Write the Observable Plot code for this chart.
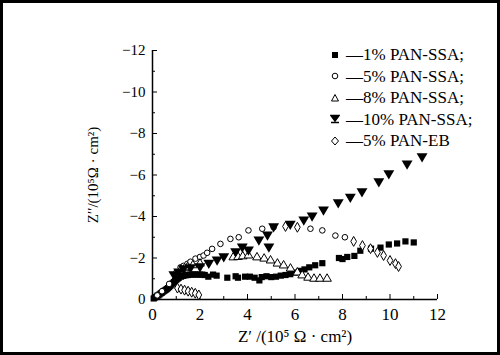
<!DOCTYPE html>
<html>
<head>
<meta charset="utf-8">
<script src="https://cdn.jsdelivr.net/npm/d3@7"></script>
<script src="https://cdn.jsdelivr.net/npm/@observablehq/plot@0.6"></script>
<style>
  html, body { margin: 0; padding: 0; background: #fff; }
  #wrap { position: relative; width: 500px; height: 355px; box-sizing: border-box; border: 3px solid #000; background: #fff; overflow: hidden; }
  #legend { position: absolute; left: 327px; top: 41px; font-family: "Liberation Serif", "Times New Roman", Tinos, "DejaVu Serif", serif; font-size: 17px; color: #000; line-height: 21.5px; }
  #legend div { display: flex; align-items: center; white-space: nowrap; }
  #legend svg { margin-right: 6px; }
  svg text { font-family: "Liberation Serif", "Times New Roman", Tinos, "DejaVu Serif", serif; }
</style>
</head>
<body>
<div id="wrap"><div id="legend"></div></div>
<script>
// Series names
const seriesNames = ["—1% PAN-SSA;", "—5% PAN-SSA;", "—8% PAN-SSA;", "—10% PAN-SSA;", "—5% PAN-EB"];

// 1% PAN-SSA (filled squares)
const s1x = [0.05,0.1,0.15,0.2,0.25,0.3,0.35,0.4,0.45,0.5,0.55,0.6,0.65,0.7,0.75,0.8,0.85,0.9,0.95,1.0,1.05,1.1,1.2,1.3,1.4,1.5,1.6,1.7,1.8,1.9,2.0,2.1,2.2,2.35,2.55,2.7,3.15,3.5,3.6,3.9,4.1,4.3,4.5,4.6,4.8,5.0,5.2,5.4,5.6,5.8,6.0,6.2,6.4,6.6,6.85,7.15,7.85,8.0,8.2,8.5,8.75,9.2,9.6,9.95,10.3,10.65,11.0];
const s1y = [-0.05,-0.1,-0.12,-0.18,-0.2,-0.25,-0.3,-0.33,-0.38,-0.42,-0.46,-0.5,-0.55,-0.6,-0.66,-0.72,-0.78,-0.84,-0.9,-0.95,-1.0,-1.04,-1.1,-1.14,-1.17,-1.18,-1.2,-1.2,-1.21,-1.2,-1.2,-1.2,-1.18,-1.1,-1.2,-1.15,-1.05,-1.12,-1.05,-1.1,-1.1,-1.05,-0.92,-1.08,-1.12,-1.08,-1.1,-1.15,-1.18,-1.22,-1.3,-1.38,-1.45,-1.55,-1.65,-1.75,-2.0,-1.95,-2.05,-2.1,-2.35,-2.45,-2.5,-2.65,-2.7,-2.8,-2.75];

// 5% PAN-SSA (open circles)
const s2x = [0.2,0.4,0.7,1.0,1.18,1.3,1.47,1.6,1.81,2.0,2.15,2.3,2.51,2.86,3.28,3.63,4.04,4.62,5.1,6.65,7.15,7.7,8.1];
const s2y = [-0.2,-0.4,-0.75,-1.3,-1.55,-1.62,-1.72,-1.82,-1.97,-2.05,-2.12,-2.25,-2.44,-2.68,-2.92,-3.0,-3.33,-3.41,-3.48,-3.41,-3.33,-3.08,-3.0];

// 8% PAN-SSA (open triangles)
const s3x = [1.2,1.35,1.47,1.7,2.0,3.4,3.6,3.8,4.04,4.4,4.7,4.97,5.26,5.52,5.81,6.1,6.3,6.55,6.8,7.05,7.35];
const s3y = [-1.45,-1.5,-1.55,-1.65,-1.73,-2.03,-2.05,-2.08,-2.12,-2.03,-1.97,-1.88,-1.73,-1.64,-1.49,-1.3,-1.16,-1.05,-1.0,-1.0,-1.0];

// 10% PAN-SSA (filled down triangles)
const s4x = [0.9,1.1,1.3,1.6,2.0,2.37,2.72,3.0,3.5,3.78,4.04,4.48,4.84,4.9,5.1,5.8,6.37,6.72,7.2,7.82,8.33,8.82,9.53,9.95,10.72,11.35];
const s4y = [-1.16,-1.3,-1.45,-1.5,-1.55,-1.72,-1.88,-2.03,-2.27,-2.5,-2.36,-2.84,-3.08,-2.5,-3.48,-3.6,-3.8,-4.0,-4.28,-4.63,-4.9,-5.16,-5.65,-6.03,-6.5,-6.85];

// 5% PAN-EB (open diamonds)
const s5x = [1.05,1.2,1.35,1.5,1.65,1.8,1.95,5.6,6.1,8.47,8.84,9.18,9.47,9.73,10.0,10.23,10.36];
const s5y = [-0.55,-0.5,-0.45,-0.4,-0.35,-0.3,-0.22,-3.52,-3.48,-2.8,-2.6,-2.45,-2.27,-2.12,-1.88,-1.73,-1.59];

// Axis ticks
const xMajor = [0,2,4,6,8,10,12];
const xMinor = [1,3,5,7,9,11];
const yMajor = [0,-2,-4,-6,-8,-10,-12];
const yMinor = [-1,-3,-5,-7,-9,-11];

const downTriangle = {
  draw(context, size) {
    const r = Math.sqrt(size / 1.3);
    context.moveTo(-r, -r * 0.75);
    context.lineTo(r, -r * 0.75);
    context.lineTo(0, r * 0.95);
    context.closePath();
  }
};

const toRows = (xs, ys, s) => xs.map((x, i) => ({x, y: ys[i], s}));
const d1 = toRows(s1x, s1y, 0), d2 = toRows(s2x, s2y, 1), d3_ = toRows(s3x, s3y, 2), d4 = toRows(s4x, s4y, 3), d5 = toRows(s5x, s5y, 4);

const fmt = d => d < 0 ? "\u2212" + (-d) : String(d);
const serif = "'Liberation Serif', 'Times New Roman', Tinos, 'DejaVu Serif', serif";

const chart = Plot.plot({
  width: 494,
  height: 349,
  marginLeft: 149,
  marginTop: 47,
  marginRight: 60,
  marginBottom: 53,
  style: {fontFamily: serif, fontSize: "17px", background: "#fff", color: "#000"},
  x: {domain: [0, 12]},
  y: {domain: [0, -12]},
  marks: [
    Plot.axisX({ticks: xMajor, tickSize: -5, tickPadding: 13, tickFormat: fmt, label: "Z′ /(10⁵ Ω · cm²)", labelAnchor: "center", labelArrow: "none", labelOffset: 42, fontSize: 17, fill: "#000"}),
    Plot.axisX({ticks: xMinor, tickSize: -3, fill: "none", label: null}),
    Plot.axisY({ticks: yMajor, tickSize: -5, tickPadding: 12, tickFormat: fmt, label: "Z′′/(10⁵Ω · cm²)", labelAnchor: "center", labelArrow: "none", labelOffset: 65, fontSize: 15, fill: "#000"}),
    Plot.axisY({ticks: yMinor, tickSize: -3, fill: "none", label: null}),
    Plot.ruleX([0], {strokeWidth: 1.5}),
    Plot.ruleY([0], {strokeWidth: 1.5}),
    Plot.dot(d1, {x: "x", y: "y", symbol: "square", fill: "#000", r: 3.5}),
    Plot.dot(d2, {x: "x", y: "y", symbol: "circle", stroke: "#000", fill: "#fff", r: 2.8, strokeWidth: 1}),
    Plot.dot(d3_, {x: "x", y: "y", symbol: "triangle", stroke: "#000", fill: "#fff", r: 3.2, strokeWidth: 1}),
    Plot.dot(d5, {x: "x", y: "y", symbol: "diamond", stroke: "#000", fill: "#fff", r: 3, strokeWidth: 1}),
    Plot.dot(d4, {x: "x", y: "y", symbol: downTriangle, fill: "#000", r: 3.5})
  ]
});
document.getElementById("wrap").appendChild(chart);

// HTML legend
const legendSymbols = [
  '<rect x="2" y="2" width="6" height="6" fill="#000"/>',
  '<circle cx="5" cy="5" r="2.8" fill="#fff" stroke="#000"/>',
  '<path d="M5,1.5L8.5,8L1.5,8Z" fill="#fff" stroke="#000"/>',
  '<path d="M1,1.5H9L5,7ZM1,8.5H9" fill="#000" stroke="#000" stroke-width="1.5"/>',
  '<path d="M5,1L8.5,5L5,9L1.5,5Z" fill="#fff" stroke="#000"/>'
];
const leg = document.getElementById("legend");
seriesNames.forEach((n, i) => {
  const row = document.createElement("div");
  row.innerHTML = `<svg width="10" height="10">${legendSymbols[i]}</svg><span>${n}</span>`;
  leg.appendChild(row);
});
</script>
</body>
</html>
